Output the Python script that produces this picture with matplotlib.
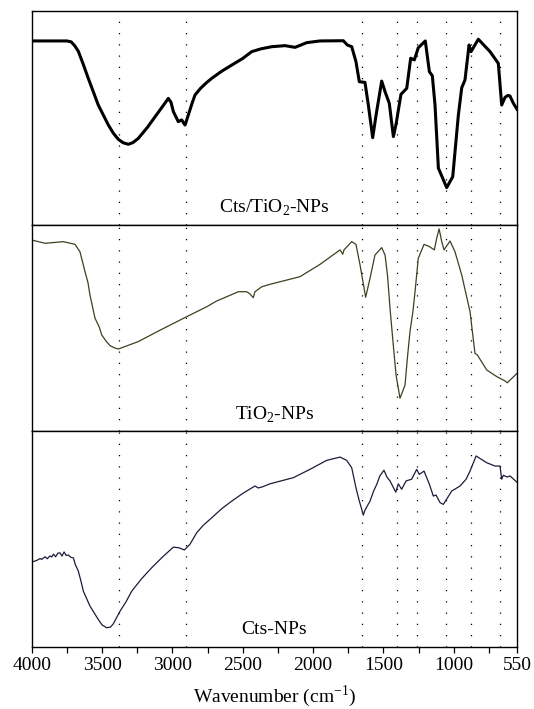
import numpy as np
import matplotlib.pyplot as plt

plt.rcParams['font.family'] = ['Liberation Serif', 'DejaVu Serif']
plt.rcParams['mathtext.fontset'] = 'custom'
plt.rcParams['mathtext.rm'] = 'Liberation Serif'

# Cts/TiO2-NPs
wn1 = [4000, 3751, 3720, 3695, 3669, 3635, 3598, 3527, 3455, 3420, 3384, 3350, 3313, 3280, 3242,
       3180, 3123, 3070, 3029, 3010, 2993, 2958, 2934, 2910, 2887, 2860, 2839, 2800, 2760, 2720,
       2650, 2578, 2500, 2436, 2370, 2294, 2199, 2128, 2045, 1950, 1785, 1756, 1725, 1695, 1671,
       1631, 1607, 1576, 1552, 1512, 1488, 1458, 1429, 1410, 1375, 1334, 1306, 1280, 1252, 1202,
       1173, 1152, 1133, 1109, 1050, 1007, 967, 943, 920, 891, 877, 825, 742, 683, 659,
       635, 614, 600, 576, 550]
t1 = [86.2, 86.2, 85.8, 84.0, 81.4, 75.5, 68.7, 56.2, 46.8, 43.0, 40.1, 38.5, 37.8, 38.6, 40.6,
      45.5, 50.7, 55.5, 59.3, 57.5, 53.1, 48.4, 49.2, 46.8, 51.5, 57.0, 60.9, 64.0, 66.5, 68.7,
      72.0, 74.9, 78.0, 81.2, 82.5, 83.5, 84.0, 83.2, 85.4, 86.2, 86.3, 84.3, 83.5, 76.5, 67.1,
      66.8, 56.2, 40.9, 51.5, 67.4, 62.4, 57.0, 41.4, 47.2, 61.2, 64.0, 78.1, 77.3, 83.0, 86.2,
      71.8, 69.9, 56.2, 26.6, 17.5, 22.6, 51.5, 64.3, 67.9, 84.3, 81.2, 87.0, 81.2, 75.7, 56.2,
      59.8, 60.7, 60.4, 57.0, 54.2]

# TiO2-NPs
wn2 = [4000, 3905, 3775, 3692, 3657, 3621, 3600, 3586, 3550, 3520, 3502, 3470, 3443, 3410, 3384,
       3242, 3100, 2898, 2756, 2685, 2531, 2472, 2448, 2425, 2413, 2365, 2306, 2093, 1950, 1808,
       1789, 1780, 1725, 1695, 1666, 1626, 1595, 1560, 1512, 1488, 1470, 1453, 1430, 1410, 1382,
       1346, 1330, 1311, 1290, 1275, 1252, 1211, 1173, 1138, 1121, 1104, 1085, 1069, 1026, 991,
       943, 884, 849, 832, 765, 694, 635, 619, 550]
t2 = [92.7, 91.1, 91.9, 90.6, 87.0, 77.3, 72.0, 66.0, 54.7, 50.5, 46.6, 43.5, 41.4, 40.3, 39.8,
      43.4, 48.5, 55.5, 60.3, 63.1, 67.6, 67.6, 66.5, 64.7, 67.6, 70.0, 71.2, 74.9, 80.9, 87.9,
      85.8, 87.9, 91.9, 90.6, 80.6, 64.9, 74.1, 85.4, 89.0, 85.4, 75.0, 59.6, 42.0, 27.2, 15.9,
      22.3, 35.0, 48.2, 58.0, 67.6, 83.8, 90.6, 89.5, 87.9, 93.5, 98.1, 91.9, 87.9, 92.2, 87.0,
      75.7, 57.9, 37.7, 36.9, 29.6, 26.4, 24.3, 23.4, 28.0]

# Cts-NPs
wn3 = [4000, 3965, 3940, 3929, 3905, 3890, 3870, 3858, 3845, 3830, 3815, 3799, 3785, 3770, 3755,
       3740, 3720, 3704, 3690, 3669, 3650, 3633, 3586, 3527, 3500, 3467, 3440, 3420, 3372, 3330,
       3289, 3220, 3147, 3070, 2993, 2953, 2915, 2875, 2827, 2780, 2720, 2650, 2578, 2500, 2413,
       2390, 2365, 2306, 2140, 2022, 1903, 1808, 1761, 1725, 1695, 1671, 1655, 1643, 1630, 1595,
       1570, 1547, 1525, 1496, 1475, 1453, 1412, 1394, 1370, 1339, 1299, 1263, 1245, 1211, 1173,
       1145, 1126, 1097, 1074, 1014, 955, 912, 884, 841, 765, 706, 671, 659, 647, 620, 600, 550]
t3 = [40.2, 40.9, 41.8, 41.4, 42.6, 41.7, 43.0, 42.5, 43.8, 42.6, 44.2, 44.4, 42.9, 44.8, 43.2,
      43.4, 42.3, 42.1, 39.0, 36.1, 31.5, 26.9, 20.1, 14.0, 11.5, 10.2, 10.5, 12.0, 17.8, 22.0,
      26.9, 32.5, 37.6, 42.5, 47.0, 46.7, 45.7, 48.3, 53.6, 57.0, 60.4, 64.5, 68.0, 71.5, 74.9,
      74.0, 74.4, 75.9, 78.7, 82.5, 86.6, 88.1, 86.6, 83.2, 74.1, 68.0, 64.5, 61.6, 64.0, 68.0,
      72.5, 75.7, 79.5, 82.1, 79.0, 77.2, 72.1, 75.9, 73.4, 77.2, 78.0, 82.5, 80.2, 81.7, 75.7,
      70.3, 70.8, 67.3, 66.5, 72.6, 74.9, 78.0, 81.7, 88.6, 85.5, 84.0, 84.0, 78.0, 79.8, 79.0,
      79.5, 76.6]

peaks = [3383, 2903, 1652, 1400, 1261, 1058, 879, 669]
names = ['Cts/TiO$_2$-NPs', 'TiO$_2$-NPs', 'Cts-NPs']
colors = ['#000000', '#3f3f22', '#1c1c3a']
widths = [2.2, 0.9, 0.9]
ylims = [(0, 100), (0, 100), (1.4, 100)]

fig = plt.figure(figsize=(5.34, 7.09), dpi=100)
boxes = [[0.0594, 0.6827, 0.9088, 0.3011],
         [0.0594, 0.3921, 0.9088, 0.2906],
         [0.0594, 0.0874, 0.9088, 0.3047]]
data = [(wn1, t1), (wn2, t2), (wn3, t3)]

for i in range(3):
    ax = fig.add_axes(boxes[i])
    x, y = data[i]
    for p in peaks:
        ax.axvline(p, color='black', lw=0.9, linestyle=(0, (1, 8)))
    ax.plot(x, y, color=colors[i], lw=widths[i], solid_joinstyle='round')
    ax.set_xlim(4000, 550)
    ax.set_ylim(*ylims[i])
    ax.set_yticks([])
    ax.text(0.5, 0.08, names[i], transform=ax.transAxes, ha='center', va='center', fontsize=14)
    for s in ax.spines.values():
        s.set_linewidth(1.0)
    if i < 2:
        ax.set_xticks([])
    else:
        ax.set_xticks([4000, 3500, 3000, 2500, 2000, 1500, 1000, 550])
        ax.set_xticks(np.arange(3750, 700, -500), minor=True)
        ax.tick_params(axis='x', which='both', direction='out', length=4, width=0.9, labelsize=14)
        ax.set_xlabel('Wavenumber (cm$^{-1}$)', fontsize=14, labelpad=6)

fig.savefig('out.png', dpi=100)
